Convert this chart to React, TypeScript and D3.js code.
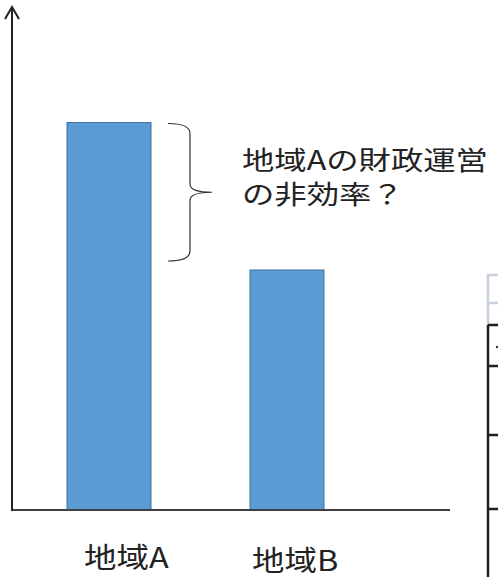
import React from "react";
import * as d3 from "d3";

const categories = ["地域A", "地域B"];
const values = [77.5, 48];
const annotationLines = ["地域Aの財政運営", "の非効率？"];

const W = 498;
const H = 577;
const FONT = "'Noto Sans CJK JP', 'Noto Sans', sans-serif";

export default function App() {
  const y = d3.scaleLinear().domain([0, 100]).range([510, 10]);
  const xCenter = d3.scaleOrdinal<string, number>().domain(categories).range([109, 287]);
  const barW = d3.scaleOrdinal<string, number>().domain(categories).range([84, 74]);
  const labelPos = d3
    .scaleOrdinal<string, [number, number]>()
    .domain(categories)
    .range([
      [84, 568],
      [252, 570.5],
    ]);

  const topA = y(values[0]);
  const bracePath = (() => {
    const top = topA + 1;
    const bot = y(values[1]) - 9;
    const mid = (top + bot) / 2;
    const p = d3.path();
    p.moveTo(168, top);
    p.quadraticCurveTo(190, top, 190, top + 10);
    p.lineTo(190, mid - 8);
    p.quadraticCurveTo(190, mid, 212, mid);
    p.quadraticCurveTo(190, mid, 190, mid + 8);
    p.lineTo(190, bot - 10);
    p.quadraticCurveTo(190, bot, 168, bot);
    return p.toString();
  })();

  return (
    <svg width={W} height={H} style={{ position: "absolute", left: 0, top: 0, background: "#fff" }}>
      {categories.map((c, i) => (
        <rect
          key={c}
          x={xCenter(c) - barW(c) / 2}
          y={y(values[i])}
          width={barW(c)}
          height={y(0) - y(values[i])}
          fill="#5B9BD5"
          stroke="#41719C"
          strokeWidth={1}
        />
      ))}
      <line x1={12} y1={y(0)} x2={450} y2={y(0)} stroke="#404040" strokeWidth={2} />
      <line x1={12} y1={y(0) + 1} x2={12} y2={7} stroke="#222" strokeWidth={2} />
      <polyline points="5,19 12,7 19,19" fill="none" stroke="#222" strokeWidth={2} />
      <path d={bracePath} fill="none" stroke="#333" strokeWidth={1.2} />
      <text
        transform="translate(242, 170) scale(1.22,1)"
        fontFamily={FONT}
        fontSize={26.5}
        fill="#222"
      >
        {annotationLines.map((t, i) => (
          <tspan key={i} x={0} y={i * 34}>
            {t}
          </tspan>
        ))}
      </text>
      {categories.map((c) => {
        const [lx, ly] = labelPos(c);
        return (
          <text
            key={c}
            transform={`translate(${lx}, ${ly}) scale(1.16,1)`}
            fontFamily={FONT}
            fontSize={28}
            fill="#222"
          >
            {c}
          </text>
        );
      })}
      <g>
        <path d="M498,275 H488 V325" fill="none" stroke="#c8d0e0" strokeWidth={2.5} />
        <line x1={488} y1={303} x2={498} y2={303} stroke="#c8d0e0" strokeWidth={2.5} />
        <line x1={488} y1={325} x2={488} y2={577} stroke="#231f20" strokeWidth={2.5} />
        {[325, 366, 435, 509].map((ry) => (
          <line key={ry} x1={488} y1={ry} x2={498} y2={ry} stroke="#231f20" strokeWidth={2.5} />
        ))}
        <circle cx={497} cy={347} r={1.2} fill="#333" />
      </g>
    </svg>
  );
}
